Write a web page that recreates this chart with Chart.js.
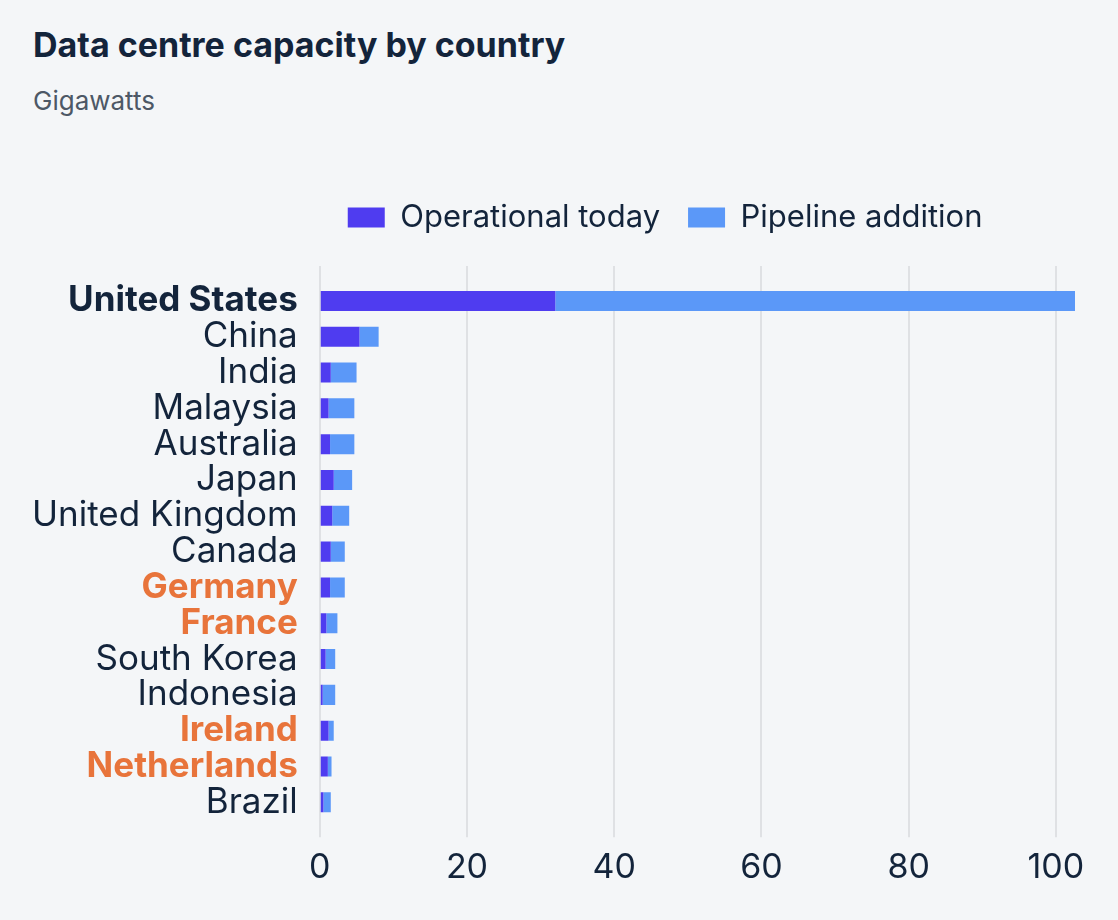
<!DOCTYPE html>
<html lang="en">
<head>
    <meta charset="UTF-8">
    <title>Data centre capacity by country</title>
    <style>
        body {
            margin: 0;
            background-color: #f4f6f8;
            font-family: Inter, "Noto Sans", sans-serif;
        }

        .chart-title {
            position: absolute;
            left: 33px;
            top: 28px;
            margin: 0;
            font-size: 34px;
            line-height: 34px;
            font-weight: 700;
            color: #13243b;
        }

        .chart-subtitle {
            position: absolute;
            left: 33px;
            top: 88px;
            margin: 0;
            font-size: 26px;
            line-height: 26px;
            color: #4d5866;
        }

        .chart-box {
            position: absolute;
            left: 0;
            top: 0;
            width: 1118px;
            height: 920px;
        }
    </style>
</head>
<body>
    <h1 class="chart-title">Data centre capacity by country</h1>
    <p class="chart-subtitle">Gigawatts</p>
    <div class="chart-box">
        <canvas id="capacityChart"></canvas>
    </div>
    <script src="https://cdn.jsdelivr.net/npm/chart.js"></script>
    <script>
        const countries = ['United States', 'China', 'India', 'Malaysia', 'Australia', 'Japan', 'United Kingdom',
            'Canada', 'Germany', 'France', 'South Korea', 'Indonesia', 'Ireland', 'Netherlands', 'Brazil'];
        const operational = [32.0, 5.4, 1.5, 1.2, 1.4, 1.9, 1.7, 1.5, 1.4, 0.9, 0.8, 0.4, 1.2, 1.1, 0.5];
        const pipeline = [70.6, 2.6, 3.5, 3.5, 3.3, 2.5, 2.3, 1.9, 2.0, 1.5, 1.3, 1.7, 0.7, 0.5, 1.0];
        const xTicks = [0, 20, 40, 60, 80, 100];
        // countries shown in orange, and the one shown in bold navy
        const europe = ['Germany', 'France', 'Ireland', 'Netherlands'];
        const leader = 'United States';

        const navy = '#13243b';
        const orange = '#e8743b';
        const gridColor = '#dfe1e4';
        const xMax = Math.max(...operational.map((v, i) => v + pipeline[i]));

        Chart.defaults.font.family = 'Inter';
        Chart.defaults.color = navy;

        // extra space between the legend and the plot
        const legendGap = {
            id: 'legendGap',
            beforeInit(chart) {
                const fitLegend = chart.legend.fit;
                chart.legend.fit = function fit() {
                    fitLegend.bind(chart.legend)();
                    this.height += 23;
                };
            },
        };

        const ctx = document.getElementById('capacityChart').getContext('2d');
        const capacityChart = new Chart(ctx, {
            type: 'bar',
            data: {
                labels: countries,
                datasets: [
                    {
                        label: 'Operational today',
                        data: operational,
                        backgroundColor: '#4f3cf0',
                        barPercentage: 0.56,
                        categoryPercentage: 1,
                    },
                    {
                        label: 'Pipeline addition',
                        data: pipeline,
                        backgroundColor: '#5b98f8',
                        barPercentage: 0.56,
                        categoryPercentage: 1,
                    }
                ],
            },
            plugins: [legendGap],
            options: {
                indexAxis: 'y',
                responsive: true,
                maintainAspectRatio: false,
                animation: false,
                layout: {
                    padding: { top: 174, right: 43, bottom: 22, left: 10 },
                },
                plugins: {
                    legend: {
                        position: 'top',
                        align: 'start',
                        fullSize: false,
                        labels: {
                            boxWidth: 37,
                            boxHeight: 20,
                            padding: 28,
                            color: navy,
                            font: { size: 31 },
                        },
                    },
                    tooltip: { enabled: false },
                },
                scales: {
                    x: {
                        stacked: true,
                        min: 0,
                        max: xMax,
                        grid: { color: gridColor, lineWidth: 2, tickLength: 17 },
                        border: { display: false },
                        afterBuildTicks: (axis) => { axis.ticks = xTicks.map(v => ({ value: v })); },
                        ticks: { padding: 10, color: navy, font: { size: 34 } },
                    },
                    xTop: {
                        type: 'linear',
                        position: 'top',
                        min: 0,
                        max: xMax,
                        grid: { color: gridColor, lineWidth: 2, tickLength: 17, drawOnChartArea: false },
                        border: { display: false },
                        afterBuildTicks: (axis) => { axis.ticks = xTicks.map(v => ({ value: v })); },
                        ticks: { display: false },
                    },
                    y: {
                        stacked: true,
                        grid: { display: false, drawTicks: false },
                        border: { display: false },
                        ticks: {
                            padding: 22,
                            autoSkip: false,
                            color: (c) => europe.includes(countries[c.index]) ? orange : navy,
                            font: (c) => ({
                                size: 35,
                                weight: (europe.includes(countries[c.index]) || countries[c.index] === leader) ? 700 : 400,
                            }),
                        },
                    },
                },
            },
        });
    </script>
</body>
</html>
